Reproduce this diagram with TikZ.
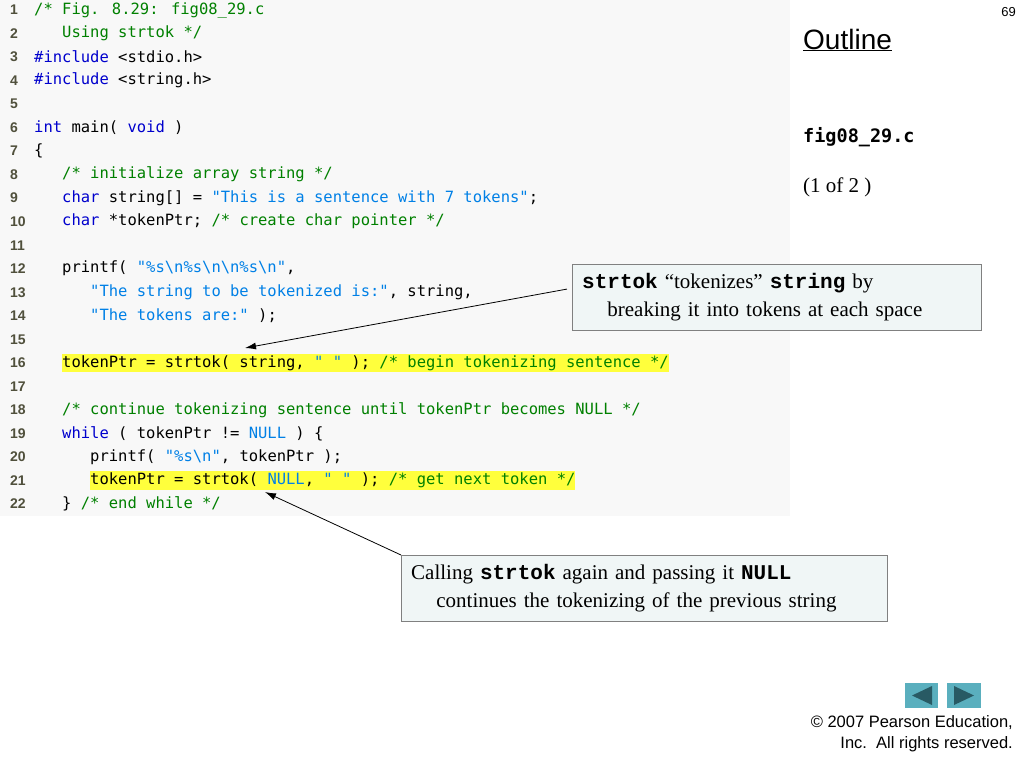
\documentclass[tikz,border=0pt]{standalone}
\usepackage{fontspec}
\setmainfont{Liberation Serif}
\newfontfamily\codefont{DejaVu Sans Mono}
\newfontfamily\arialfont{Liberation Sans}
\newfontfamily\courfont{Liberation Mono}
\usetikzlibrary{positioning,arrows.meta}
\definecolor{panelgray}{RGB}{248,248,248}
\definecolor{cmtgreen}{RGB}{0,128,0}
\definecolor{kwblue}{RGB}{0,0,205}
\definecolor{strblue}{RGB}{0,128,230}
\definecolor{hlyellow}{RGB}{255,255,60}
\definecolor{numgray}{RGB}{80,80,60}
\definecolor{calloutfill}{RGB}{240,246,246}
\definecolor{navteal}{RGB}{90,175,190}
\definecolor{navdark}{RGB}{40,90,100}
\newcommand{\cm}[1]{\textcolor{cmtgreen}{#1}}
\newcommand{\kw}[1]{\textcolor{kwblue}{#1}}
\newcommand{\st}[1]{\textcolor{strblue}{#1}}
\begin{document}
\begin{tikzpicture}[x=1pt,y=-1pt,
    code/.style={anchor=west,inner xsep=0pt,inner ysep=1.5pt,font=\codefont\fontsize{15.5}{18}\selectfont},
    hl/.style={code,fill=hlyellow},
    linenum/.style={anchor=west,inner sep=0pt,text=numgray,font=\arialfont\bfseries\fontsize{14}{16}\selectfont},
    callout/.style={draw=gray,fill=calloutfill,anchor=north west,inner xsep=10pt,inner ysep=9pt,
      align=left,font=\fontsize{21}{28}\selectfont},
    pointer/.style={-{Latex[length=11pt,width=7pt]},thick}]
  \useasboundingbox (0,0) rectangle (1024,768);
  \fill[white] (0,0) rectangle (1024,768);
  \fill[panelgray] (0,0) rectangle (790,516);
  % line numbers
  \foreach \n in {1,...,22}
    \node[linenum] (n\n) at (10,{10+(\n-1)*23.52}) {\n};
  % code lines
  \node[code] (c1) at (34,10) {\cm{/* Fig. 8.29: fig08\_29.c}};
  \node[code] (c2) at (62,33.5) {\cm{Using strtok */}};
  \node[code] (c3) at (34,57) {\kw{\#include} <stdio.h>};
  \node[code] (c4) at (34,80.6) {\kw{\#include} <string.h>};
  \node[code] (c6) at (34,127.6) {\kw{int} main( \kw{void} )};
  \node[code] (c7) at (34,151.1) {\{};
  \node[code] (c8) at (62,174.6) {\cm{/* initialize array string */}};
  \node[code] (c9) at (62,198.2) {\kw{char} string[] = \st{"This is a sentence with 7 tokens"};};
  \node[code] (c10) at (62,221.7) {\kw{char} *tokenPtr; \cm{/* create char pointer */}};
  \node[code] (c12) at (62,268.7) {printf( \st{"\%s\textbackslash n\%s\textbackslash n\textbackslash n\%s\textbackslash n"},};
  \node[code] (c13) at (90,292.3) {\st{"The string to be tokenized is:"}, string,};
  \node[code] (c14) at (90,315.8) {\st{"The tokens are:"} );};
  \node[hl] (c16) at (62,362.8) {tokenPtr = strtok( string, \st{" "} ); \cm{/* begin tokenizing sentence */}};
  \node[code] (c18) at (62,409.9) {\cm{/* continue tokenizing sentence until tokenPtr becomes NULL */}};
  \node[code] (c19) at (62,433.4) {\kw{while} ( tokenPtr != \st{NULL} ) \{};
  \node[code] (c20) at (90,456.9) {printf( \st{"\%s\textbackslash n"}, tokenPtr );};
  \node[hl] (c21) at (90,480.5) {tokenPtr = strtok( \st{NULL}, \st{" "} ); \cm{/* get next token */}};
  \node[code] (c22) at (62,504) {\} \cm{/* end while */}};
  % right column
  \node[anchor=east,inner sep=0pt,font=\arialfont\fontsize{13}{15}\selectfont] (page) at (1016,12) {69};
  \node[anchor=west,inner sep=0pt,font=\arialfont\fontsize{28}{30}\selectfont] (outline) at (803,40) {\underline{Outline}};
  \node[anchor=west,inner sep=0pt,font=\codefont\bfseries\fontsize{18.5}{20}\selectfont] (fname) at (803,137) {fig08\_29.c};
  \node[anchor=west,inner sep=0pt,font=\fontsize{21}{24}\selectfont] (part) at (803,187) {(1 of 2 )};
  % callouts
  \node[callout,text width=389pt] (tok) at (572,264)
    {{\courfont\bfseries strtok} “tokenizes” {\courfont\bfseries string} by\\
     \hspace*{1.2em}breaking it into tokens at each space};
  \node[callout,text width=466pt] (nul) at (401,555)
    {Calling {\courfont\bfseries strtok} again and passing it {\courfont\bfseries NULL}\\
     \hspace*{1.2em}continues the tokenizing of the previous string};
  \coordinate (tokhead) at (245,348);
  \coordinate (nulhead) at (265,492);
  \draw[pointer] (tok.west) ++(-5,-8) -- (tokhead);
  \draw[pointer] (nul.north west) -- (nulhead);
  % navigation buttons
  \fill[navteal] (905,683) rectangle (938,708);
  \fill[navteal] (947,683) rectangle (981,708);
  \fill[navdark] (912,695.5) -- (932,686) -- (932,705) -- cycle;
  \fill[navdark] (974,695.5) -- (954,686) -- (954,705) -- cycle;
  % copyright
  \node[anchor=north east,align=right,inner sep=0pt,font=\arialfont\fontsize{16.5}{21}\selectfont] (copy) at (1013,715)
    {© 2007 Pearson Education,\\Inc.\ \ All rights reserved.};
\end{tikzpicture}
\end{document}
